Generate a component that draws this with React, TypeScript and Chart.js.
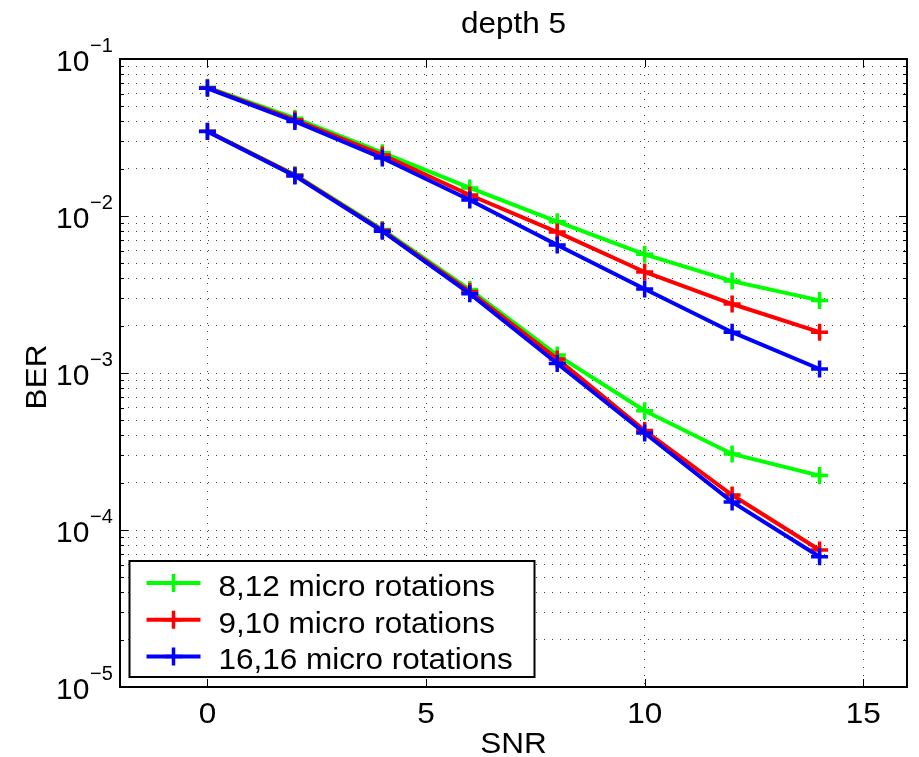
import { useEffect, useRef } from "react";
import { Chart, registerables } from "chart.js";

Chart.register(...registerables);

// ---- data ----
const snr = [0, 2, 4, 6, 8, 10, 12, 14];

const ber812Upper = [0.066, 0.042, 0.0253, 0.0151, 0.0092, 0.0057, 0.00385, 0.0029];
const ber910Upper = [0.0655, 0.041, 0.0245, 0.0136, 0.0079, 0.0044, 0.00275, 0.00182];
const ber1616Upper = [0.065, 0.040, 0.0234, 0.01264, 0.00653, 0.00343, 0.00182, 0.00106];

const ber812Lower = [0.0347, 0.0183, 0.0082, 0.0034, 0.0013, 0.000575, 0.000305, 0.000222];
const ber910Lower = [0.0346, 0.0182, 0.0081, 0.0033, 0.00123, 0.00043, 0.000167, 0.0000746];
const ber1616Lower = [0.0345, 0.018, 0.008, 0.0032, 0.00115, 0.000415, 0.000151, 0.0000676];

const seriesLabels = ["8,12 micro rotations", "9,10 micro rotations", "16,16 micro rotations"];
const seriesColors = ["#00ff00", "#ff0000", "#0000ff"];
const upperGroups = [ber812Upper, ber910Upper, ber1616Upper];
const lowerGroups = [ber812Lower, ber910Lower, ber1616Lower];

const xTickValues = [0, 5, 10, 15];
const yDecadeExponents = [-5, -4, -3, -2, -1];
const yMinorSteps = [1, 2, 3, 4, 5, 6, 7, 8, 9];

const titleText = "depth 5";
const xLabel = "SNR";
const yLabel = "BER";

const FONT = '"Liberation Sans", Arial, Helvetica, sans-serif';

function yTickList(): number[] {
  const out: number[] = [];
  const maxExp = yDecadeExponents[yDecadeExponents.length - 1];
  for (const e of yDecadeExponents) {
    if (e === maxExp) {
      out.push(Math.pow(10, e));
    } else {
      for (const m of yMinorSteps) out.push(m * Math.pow(10, e));
    }
  }
  return out;
}

function drawText(
  ctx: CanvasRenderingContext2D,
  text: string,
  x: number,
  y: number,
  size: number,
  align: CanvasTextAlign,
  sx = 1.05,
  rotate = 0
) {
  ctx.save();
  ctx.translate(x, y);
  if (rotate) ctx.rotate(rotate);
  ctx.scale(sx, 1);
  ctx.font = `${size}px ${FONT}`;
  ctx.fillStyle = "#000";
  ctx.textAlign = align;
  ctx.textBaseline = "alphabetic";
  ctx.fillText(text, 0, 0);
  ctx.restore();
}

const matlabPlugin = {
  id: "matlabDecor",
  afterDraw(chart: any) {
    const ctx: CanvasRenderingContext2D = chart.ctx;
    const a = chart.chartArea;
    const xs = chart.scales.x;
    const ys = chart.scales.y;

    ctx.save();
    // tick marks (inward)
    ctx.strokeStyle = "#000";
    ctx.lineWidth = 1;
    ctx.beginPath();
    for (const v of yTickList()) {
      const py = Math.round(ys.getPixelForValue(v)) + 0.5;
      const isDecade = Math.abs(Math.log10(v) - Math.round(Math.log10(v))) < 1e-9;
      const len = isDecade ? 8 : 4;
      ctx.moveTo(a.left, py);
      ctx.lineTo(a.left + len, py);
      ctx.moveTo(a.right, py);
      ctx.lineTo(a.right - len, py);
    }
    for (const v of xTickValues) {
      const px = Math.round(xs.getPixelForValue(v)) + 0.5;
      ctx.moveTo(px, a.bottom);
      ctx.lineTo(px, a.bottom - 8);
      ctx.moveTo(px, a.top);
      ctx.lineTo(px, a.top + 8);
    }
    ctx.stroke();

    // axes box
    ctx.lineWidth = 2;
    ctx.strokeRect(a.left, a.top, a.right - a.left, a.bottom - a.top);

    // y tick labels 10^e
    for (const e of yDecadeExponents) {
      const py = ys.getPixelForValue(Math.pow(10, e));
      drawText(ctx, "10", a.left - 64, py + 12, 30, "left", 1.0);
      drawText(ctx, "\u2212" + Math.abs(e), a.left - 30, py - 7, 20, "left", 1.0);
    }
    // x tick labels
    for (const v of xTickValues) {
      const px = xs.getPixelForValue(v);
      drawText(ctx, String(v), px, a.bottom + 36, 30, "center");
    }
    const cx = (a.left + a.right) / 2;
    const cy = (a.top + a.bottom) / 2;
    drawText(ctx, xLabel, cx, a.bottom + 66, 30, "center");
    drawText(ctx, titleText, cx, a.top - 26, 30, "center");
    drawText(ctx, yLabel, 46, cy + 4, 30, "center", 1.05, -Math.PI / 2);

    // legend
    const lx = a.left + 9.5;
    const lw = 405;
    const lh = 116;
    const ly = a.bottom - 10 - lh;
    ctx.fillStyle = "#fff";
    ctx.fillRect(lx, ly, lw, lh);
    ctx.lineWidth = 2;
    ctx.strokeStyle = "#000";
    ctx.strokeRect(lx, ly, lw, lh);
    seriesLabels.forEach((label, i) => {
      const rowY = ly + 22 + i * 36.7;
      ctx.strokeStyle = seriesColors[i];
      ctx.lineWidth = 4;
      ctx.beginPath();
      ctx.moveTo(lx + 17, rowY);
      ctx.lineTo(lx + 71, rowY);
      ctx.stroke();
      ctx.lineWidth = 3.5;
      ctx.beginPath();
      ctx.moveTo(lx + 44, rowY - 9);
      ctx.lineTo(lx + 44, rowY + 9);
      ctx.moveTo(lx + 35, rowY);
      ctx.lineTo(lx + 53, rowY);
      ctx.stroke();
      drawText(ctx, label, lx + 89, rowY + 13, 30, "left");
    });
    ctx.restore();
  },
};

export default function App() {
  const ref = useRef<HTMLCanvasElement>(null);

  useEffect(() => {
    const canvas = ref.current;
    if (!canvas) return;

    const datasets: any[] = [];
    [upperGroups, lowerGroups].forEach((group, gi) => {
      group.forEach((values, si) => {
        datasets.push({
          label: seriesLabels[si] + (gi === 0 ? "" : " (2)"),
          data: snr.map((x, i) => ({ x, y: values[i] })),
          borderColor: seriesColors[si],
          backgroundColor: seriesColors[si],
          borderWidth: 4,
          pointStyle: "cross",
          pointRadius: 8.5,
          pointHoverRadius: 8.5,
          pointBorderWidth: 3.5,
          pointBorderColor: seriesColors[si],
          fill: false,
          tension: 0,
          order: 3 - si,
        });
      });
    });

    const chart = new Chart(canvas, {
      type: "line",
      data: { datasets },
      options: {
        animation: false,
        responsive: false,
        events: [],
        layout: { padding: { top: 59, right: 3, bottom: 0, left: 0 } },
        plugins: {
          legend: { display: false },
          title: { display: false },
          tooltip: { enabled: false },
        },
        scales: {
          x: {
            type: "linear",
            min: -2,
            max: 16,
            afterBuildTicks: (s: any) => {
              s.ticks = xTickValues.map((v) => ({ value: v }));
            },
            afterFit: (s: any) => {
              s.height = 70;
            },
            ticks: { display: false },
            grid: { color: "rgba(0,0,0,0.75)", lineWidth: 1, drawTicks: false },
            border: { display: false, dash: [1, 7] },
          },
          y: {
            type: "logarithmic",
            min: 1e-5,
            max: 1e-1,
            afterBuildTicks: (s: any) => {
              s.ticks = yTickList().map((v) => ({ value: v }));
            },
            afterFit: (s: any) => {
              s.width = 120;
            },
            ticks: { display: false },
            grid: { color: "rgba(0,0,0,0.75)", lineWidth: 1, drawTicks: false },
            border: { display: false, dash: [1, 7] },
          },
        },
      } as any,
      plugins: [matlabPlugin],
    });

    return () => chart.destroy();
  }, []);

  return (
    <div style={{ position: "absolute", left: 0, top: 0, width: 919, height: 757, background: "#fff" }}>
      <canvas ref={ref} width={919} height={757} style={{ display: "block" }} />
    </div>
  );
}
